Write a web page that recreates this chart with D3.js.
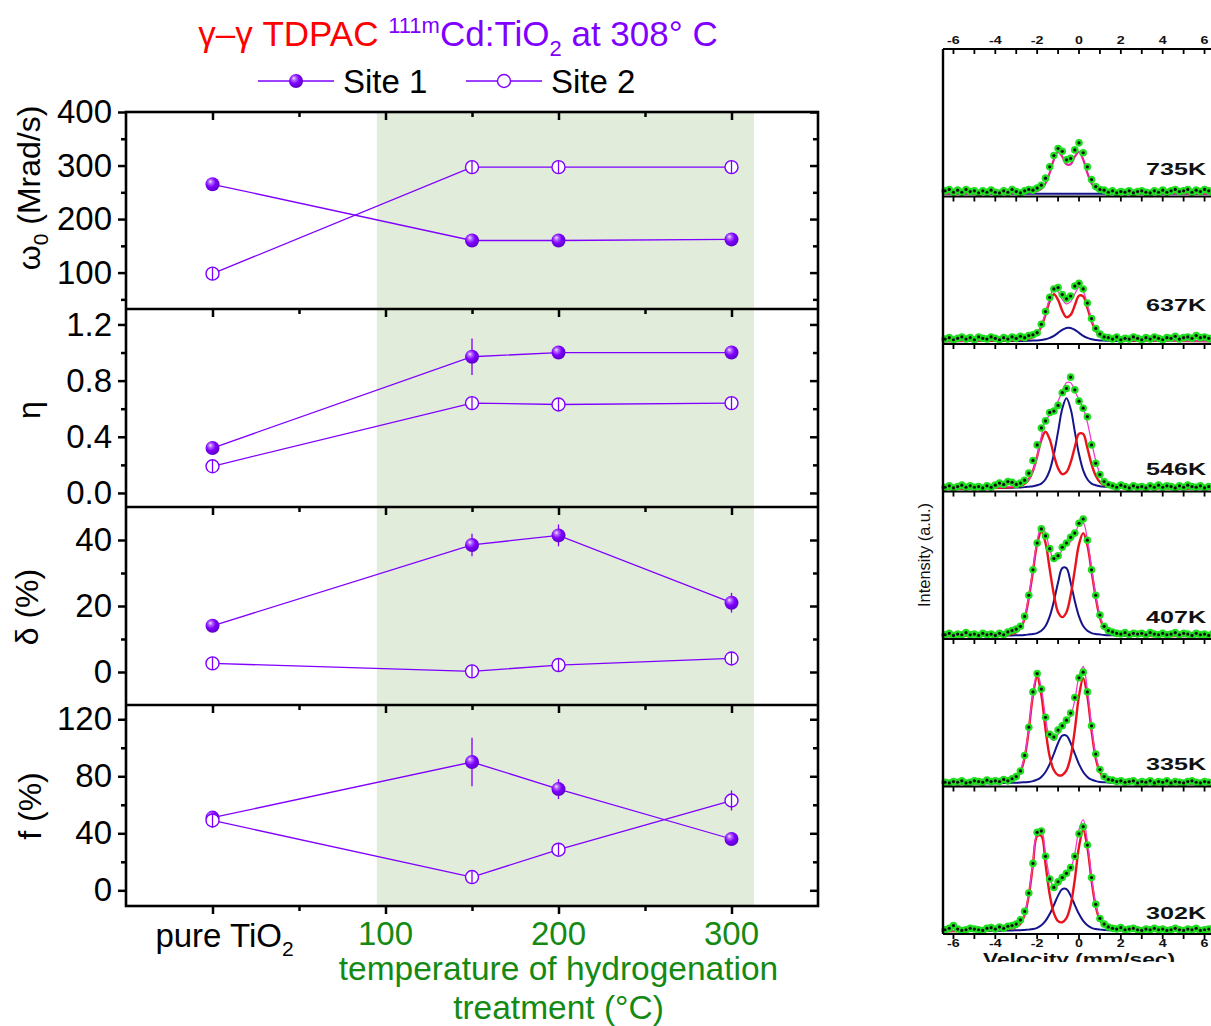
<!DOCTYPE html>
<html>
<head>
<meta charset="utf-8">
<script src="https://cdn.jsdelivr.net/npm/d3@7"></script>
<style>
  body { margin: 0; background: #fff; }
  svg { display: block; font-family: "Liberation Sans", Arial, Helvetica, sans-serif; }
</style>
</head>
<body>
<svg id="chart" width="1211" height="1026"></svg>
<script>
// ===================== TDPAC hyperfine parameters =====================
// Treatment temperature (°C); 0 stands for the untreated (pure TiO2) sample
const treatments = [0, 150, 200, 300];

const omegaSite1 = [265, 160, 160, 162];
const omegaSite2 = [98, 297, 297, 297];
const omegaErr1  = [4, 4, 4, 4];
const omegaErr2  = [12, 12, 12, 12];

const etaSite1 = [0.32, 0.97, 1.00, 1.00];
const etaSite2 = [0.19, 0.64, 0.63, 0.64];
const etaErr1  = [0.02, 0.13, 0.02, 0.02];
const etaErr2  = [0.045, 0.045, 0.045, 0.045];

const deltaSite1 = [14, 38.5, 41.4, 21];
const deltaSite2 = [2.6, 0.2, 2.1, 4.1];
const deltaErr1  = [1, 3.4, 3.3, 3];
const deltaErr2  = [2, 2, 2, 2];

const fracSite1 = [51, 90, 71, 36];
const fracSite2 = [49, 9.3, 28.5, 63];
const fracErr1  = [2, 17, 7, 2];
const fracErr2  = [5, 4, 4, 7];

// axis ranges and tick values
const xDomain      = [-50, 350];
const xMajorTicks  = [0, 100, 200, 300];
const xMinorTicks  = [50, 150, 250];
const xTickLabels  = ["pure TiO", "100", "200", "300"];
const treatedRange = [95, 313];

const omegaDomain = [32, 400],    omegaMajor = [100, 200, 300, 400], omegaMinor = [50, 150, 250, 350];
const etaDomain   = [-0.1, 1.31], etaMajor   = [0, 0.4, 0.8, 1.2],   etaMinor   = [0.2, 0.6, 1.0];
const deltaDomain = [-10, 50],    deltaMajor = [0, 20, 40],          deltaMinor = [10, 30];
const fracDomain  = [-11, 130],   fracMajor  = [0, 40, 80, 120],     fracMinor  = [20, 60, 100];

// ===================== Mössbauer spectra =====================
const spectrumLabels = ["735K", "637K", "546K", "407K", "335K", "302K"];

// channel velocities (mm/s) of the measured points
const channelVelocity = [
  -6.4, -6.2, -6.0, -5.8, -5.6, -5.4, -5.2, -5.0, -4.8, -4.6, -4.4, -4.2, -4.0,
  -3.8, -3.6, -3.4, -3.2, -3.0, -2.8, -2.6, -2.4, -2.2, -2.0, -1.8, -1.6, -1.4,
  -1.2, -1.0, -0.8, -0.6, -0.4, -0.2, 0.0, 0.2, 0.4, 0.6, 0.8, 1.0, 1.2,
  1.4, 1.6, 1.8, 2.0, 2.2, 2.4, 2.6, 2.8, 3.0, 3.2, 3.4, 3.6, 3.8,
  4.0, 4.2, 4.4, 4.6, 4.8, 5.0, 5.2, 5.4, 5.6, 5.8, 6.0, 6.2, 6.4
];
// velocities at which the fitted curves are tabulated
const fitVelocity = [
  -4.0, -3.8, -3.6, -3.4, -3.2, -3.0, -2.8, -2.6, -2.4, -2.2, -2.0,
  -1.8, -1.6, -1.4, -1.2, -1.0, -0.8, -0.6, -0.4, -0.2, 0.0, 0.2,
  0.4, 0.6, 0.8, 1.0, 1.2, 1.4, 1.6, 1.8, 2.0, 2.2, 2.4
];

const counts735K = [
  2, 3, 1, 2.5, 1, 3, 1.5, 2, 0.5, 2, 1, 2.5, 1,
  0.5, 2, 1, 3, 1.5, 0.5, 2, 3, 2.5, 4, 6, 11, 19,
  27, 32, 30, 24, 25, 31, 36, 29, 19, 10, 5, 3, 2.5,
  1, 2, 0.5, 1.5, 1, 2, 0.5, 1.5, 2, 1, 0.5, 2, 1,
  2.5, 1, 2, 3, 1.5, 2, 3, 1, 2.5, 1.5, 3, 2, 1
];
const fitTotal735K = [
  0.2, 0.3, 0.3, 0.3, 0.4, 0.5, 0.6, 0.7, 0.9, 1.2, 1.7,
  3.3, 7.2, 14.7, 24.2, 29.5, 26.2, 20.8, 20.8, 26.2, 29.5, 24.2,
  14.7, 7.2, 3.3, 1.7, 1.2, 0.9, 0.7, 0.6, 0.5, 0.4, 0.3
];
const fitBlue735K = [
  0, 0, 0, 0, 0, 0, 0, 0, 0, 0, 0,
  0, 0, 0, 0, 0, 0, 0, 0, 0, 0, 0,
  0, 0, 0, 0, 0, 0, 0, 0, 0, 0, 0
];

const counts637K = [
  1.5, 2.5, 1, 2, 3, 1.5, 2.5, 1, 3, 2, 1.5, 3, 2,
  1, 2.5, 1.5, 3, 2, 3.5, 2.5, 4, 4.5, 6, 12, 21, 31,
  37, 38, 33, 30, 32, 39, 41, 37, 27, 16, 9, 5, 3,
  2.5, 1.5, 3, 1, 2, 1.5, 3, 2, 1, 2.5, 1.5, 3, 2,
  1, 2.5, 2, 3.5, 1.5, 2.5, 3, 2, 4, 2.5, 3, 2, 1.5
];
const fitRed637K = [
  0.4, 0.5, 0.5, 0.6, 0.7, 0.8, 0.9, 1.2, 1.7, 2.8, 5.3,
  10.4, 18.8, 28.3, 33.2, 29.2, 21.6, 17.0, 18.6, 25.4, 32.2, 31.7,
  23.6, 14.2, 7.5, 3.8, 2.1, 1.4, 1.1, 0.9, 0.7, 0.6, 0.5
];
const fitBlue637K = [
  0.1, 0.1, 0.1, 0.1, 0.1, 0.2, 0.2, 0.2, 0.3, 0.4, 0.5,
  0.8, 1.3, 2.3, 3.8, 5.9, 8.0, 9.4, 9.4, 8.0, 5.9, 3.8,
  2.3, 1.3, 0.8, 0.5, 0.4, 0.3, 0.2, 0.2, 0.2, 0.1, 0.1
];
const fitTotal637K = [
  0.5, 0.6, 0.6, 0.7, 0.8, 1.0, 1.1, 1.4, 2.0, 3.2, 5.8,
  11.2, 20.1, 30.6, 37.0, 35.1, 29.6, 26.4, 28.0, 33.4, 38.1, 35.5,
  25.9, 15.5, 8.3, 4.3, 2.5, 1.7, 1.3, 1.1, 0.9, 0.7, 0.6
];

const counts546K = [
  1, 2, 0.5, 1.5, 2.5, 1, 2, 1, 1.5, 0.5, 2, 1, 2.5,
  4, 3, 5, 4.5, 3, 4, 6, 11, 20, 31, 43, 48, 54,
  55, 59, 68, 71, 79, 70, 62, 57, 51, 31, 18, 10, 5,
  3, 2, 1, 2.5, 1.5, 0.5, 2, 1, 1.5, 0.5, 2, 1, 2.5,
  1, 2, 1.5, 0.5, 2, 1, 2.5, 1.5, 1, 2, 0.5, 1.5, 1
];
const fitRed546K = [
  0.6, 0.7, 0.8, 0.9, 1.1, 1.5, 2.0, 3.4, 6.5, 12.7, 22.9,
  34.5, 40.3, 34.9, 23.8, 14.5, 10.3, 11.7, 18.6, 29.5, 38.9, 38.7,
  28.8, 17.3, 9.1, 4.6, 2.6, 1.7, 1.3, 1.0, 0.8, 0.7, 0.6
];
const fitBlue546K = [
  0.4, 0.5, 0.5, 0.6, 0.7, 0.8, 0.9, 1.1, 1.4, 1.7, 2.4,
  3.6, 6.7, 13.0, 24.4, 40.4, 56.6, 64.0, 56.6, 40.4, 24.4, 13.0,
  6.7, 3.6, 2.4, 1.7, 1.4, 1.1, 0.9, 0.8, 0.7, 0.6, 0.5
];
const fitTotal546K = [
  1.0, 1.1, 1.2, 1.4, 1.6, 2.0, 2.6, 4.0, 6.5, 12.5, 22.5,
  37.0, 48.5, 52.0, 56.0, 62.0, 69.0, 75.0, 75.0, 69.0, 63.0, 57.0,
  47.0, 33.0, 20.0, 10.5, 5.0, 3.0, 2.2, 1.8, 1.5, 1.2, 1.0
];

const counts407K = [
  1, 2, 0.5, 1.5, 1, 2.5, 1, 1.5, 0.5, 2, 1, 1.5, 0.5,
  2, 1, 3, 4, 5, 7, 14, 29, 47, 66, 76, 71, 62,
  55, 57, 63, 66, 70, 73, 80, 83, 68, 47, 29, 15, 7,
  4, 3, 2, 1.5, 2.5, 1, 2, 1.5, 2, 1, 2.5, 1.5, 1,
  2, 1, 1.5, 2.5, 1, 2, 1.5, 0.5, 2, 1, 1.5, 0.5, 2
];
const fitRed407K = [
  0.5, 0.6, 0.8, 1.0, 1.6, 2.8, 5.5, 12.5, 27, 46, 65.5,
  74, 66, 47.5, 29.5, 17, 13.5, 17, 29, 47, 65, 73,
  64.5, 46, 27.5, 13, 6, 3, 1.8, 1.2, 0.9, 0.7, 0.5
];
const fitBlue407K = [
  0.2, 0.3, 0.3, 0.4, 0.5, 0.6, 0.7, 0.9, 1.2, 1.5, 2.2,
  3.8, 7.2, 14.0, 24.9, 38.1, 48.2, 48.2, 38.1, 24.9, 14.0, 7.2,
  3.8, 2.2, 1.5, 1.2, 0.9, 0.7, 0.6, 0.5, 0.4, 0.3, 0.3
];
const fitTotal407K = [
  0.7, 0.9, 1.1, 1.4, 2.1, 3.4, 6.2, 13.4, 28.2, 47.5, 67.7,
  77.8, 73.2, 61.5, 54.4, 55.1, 61.7, 65.2, 67.1, 71.9, 79.0, 80.2,
  68.3, 48.2, 29.0, 14.2, 6.9, 3.7, 2.4, 1.7, 1.3, 1.0, 0.8
];

const counts335K = [
  1, 0.5, 1.5, 1, 2, 0.5, 1, 2, 1.5, 1, 2.5, 1.5, 2,
  1.5, 3, 2, 3.5, 5, 9, 20, 40, 65, 78, 67, 47, 35,
  33, 38, 41, 45, 50, 61, 75, 79, 65, 41, 21, 10, 5,
  3, 2.5, 1.5, 2, 1, 1.5, 2, 0.5, 1.5, 1, 2, 0.5, 1.5,
  1, 2, 0.5, 1.5, 1, 0.5, 1.5, 2, 1, 0.5, 1.5, 1, 0.5
];
const fitRed335K = [
  1.1, 1.3, 1.6, 2.0, 2.7, 4.1, 8.2, 18.4, 38.0, 62.8, 75.7,
  63.0, 38.5, 19.2, 9.5, 6.1, 6.1, 9.4, 19.0, 38.1, 62.2, 74.7,
  61.9, 37.5, 18.1, 8.1, 4.1, 2.6, 2.0, 1.6, 1.3, 1.1, 0.9
];
const fitBlue335K = [
  0.3, 0.4, 0.4, 0.5, 0.6, 0.7, 0.8, 1.0, 1.2, 1.8, 2.8,
  4.8, 8.3, 13.8, 21.2, 28.8, 34.0, 34.0, 28.8, 21.2, 13.8, 8.3,
  4.8, 2.8, 1.8, 1.2, 1.0, 0.8, 0.7, 0.6, 0.5, 0.4, 0.4
];
const fitTotal335K = [
  1.4, 1.7, 2.0, 2.5, 3.3, 4.8, 9.0, 19.4, 39.2, 64.6, 78.5,
  67.8, 46.8, 33.0, 30.7, 34.9, 40.1, 43.4, 47.8, 59.3, 76.0, 83.0,
  66.7, 40.3, 19.9, 9.3, 5.1, 3.4, 2.7, 2.2, 1.8, 1.5, 1.3
];

const counts302K = [
  1, 2, 4, 1.5, 0.5, 1, 2, 1.5, 1, 0.5, 2, 2.5, 1.5,
  3, 2, 3.5, 4, 5, 8, 14, 27, 48, 70, 71, 53, 37,
  31, 35, 38, 41, 45, 53, 69, 74, 61, 38, 19, 9, 5,
  3, 2, 1.5, 2.5, 1, 1.5, 2, 1, 0.5, 1.5, 1, 2, 1,
  1.5, 0.5, 1, 2, 1, 0.5, 1.5, 1, 2, 0.5, 1, 1.5, 2
];
const fitRed302K = [
  1.0, 1.2, 1.4, 1.7, 2.1, 3.0, 5.3, 11.5, 25.3, 47.2, 67.4,
  67.5, 47.6, 26.0, 12.7, 7.1, 6.3, 9.2, 18.4, 36.6, 59.8, 71.7,
  59.5, 36.0, 17.5, 7.8, 3.9, 2.5, 1.9, 1.5, 1.2, 1.0, 0.9
];
const fitBlue302K = [
  0.3, 0.3, 0.4, 0.4, 0.5, 0.6, 0.7, 0.9, 1.1, 1.5, 2.4,
  4.2, 7.3, 12.1, 18.5, 25.2, 29.8, 29.8, 25.2, 18.5, 12.1, 7.3,
  4.2, 2.4, 1.5, 1.1, 0.9, 0.7, 0.6, 0.5, 0.4, 0.4, 0.3
];
const fitTotal302K = [
  1.3, 1.5, 1.8, 2.1, 2.6, 3.6, 6.0, 12.4, 26.4, 48.7, 69.8,
  71.7, 54.9, 38.1, 31.2, 32.3, 36.1, 39.0, 43.6, 55.1, 71.9, 79.0,
  63.7, 38.4, 19.0, 8.9, 4.8, 3.2, 2.5, 2.0, 1.6, 1.4, 1.2
];

const velocityDomain  = [-6.5, 6.5];
const velocityMajor   = [-6, -4, -2, 0, 2, 4, 6];
const velocityMinor   = [-5, -3, -1, 1, 3, 5];
const intensityDomain = [-2, 100];

// ===================== drawing =====================
const svg = d3.select("#chart");
const PURPLE = "#7f00ff";
const GREEN = "#148a14";
const FS = 33;   // main text size of the left figure

const defs = svg.append("defs");
const ball = defs.append("radialGradient").attr("id", "ball")
  .attr("cx", "42%").attr("cy", "40%").attr("r", "62%")
  .attr("fx", "34%").attr("fy", "30%");
ball.append("stop").attr("offset", "0%").attr("stop-color", "#f3e8ff");
ball.append("stop").attr("offset", "22%").attr("stop-color", "#b46cff");
ball.append("stop").attr("offset", "55%").attr("stop-color", "#8000ff");
ball.append("stop").attr("offset", "100%").attr("stop-color", "#5a00c4");

// ---------- left figure: stacked TDPAC parameter panels ----------
const frame = { left: 126, right: 818, edges: [112, 309, 507, 705, 906] };
const x = d3.scaleLinear().domain(xDomain).range([frame.left, frame.right]);

svg.append("rect")
  .attr("x", x(treatedRange[0])).attr("y", frame.edges[0])
  .attr("width", x(treatedRange[1]) - x(treatedRange[0]))
  .attr("height", frame.edges[4] - frame.edges[0])
  .attr("fill", "#e2ecdb");

const panels = [
  { s1: omegaSite1, s2: omegaSite2, e1: omegaErr1, e2: omegaErr2, domain: omegaDomain, major: omegaMajor, minor: omegaMinor, fmt: d3.format("d") },
  { s1: etaSite1,   s2: etaSite2,   e1: etaErr1,   e2: etaErr2,   domain: etaDomain,   major: etaMajor,   minor: etaMinor,   fmt: d3.format(".1f") },
  { s1: deltaSite1, s2: deltaSite2, e1: deltaErr1, e2: deltaErr2, domain: deltaDomain, major: deltaMajor, minor: deltaMinor, fmt: d3.format("d") },
  { s1: fracSite1,  s2: fracSite2,  e1: fracErr1,  e2: fracErr2,  domain: fracDomain,  major: fracMajor,  minor: fracMinor,  fmt: d3.format("d") }
];

function styleAxis(g, width) {
  g.selectAll(".domain").remove();
  g.selectAll(".tick line").attr("stroke", "#000").attr("stroke-width", width);
  g.selectAll("text").attr("font-family", null).attr("font-size", FS).attr("fill", "#000");
}

panels.forEach((p, i) => {
  const top = frame.edges[i], bottom = frame.edges[i + 1];
  const y = d3.scaleLinear().domain(p.domain).range([bottom, top]);
  const g = svg.append("g");

  // left axis: outward ticks with labels
  g.append("g").attr("transform", `translate(${frame.left},0)`)
    .call(d3.axisLeft(y).tickValues(p.major).tickSize(8).tickPadding(6).tickFormat(p.fmt))
    .call(a => styleAxis(a, 2.5));
  g.append("g").attr("transform", `translate(${frame.left},0)`)
    .call(d3.axisLeft(y).tickValues(p.minor).tickSize(5).tickFormat(""))
    .call(a => styleAxis(a, 2.5));
  // right axis: inward ticks
  g.append("g").attr("transform", `translate(${frame.right},0)`)
    .call(d3.axisRight(y).tickValues(p.major).tickSize(-8).tickFormat(""))
    .call(a => styleAxis(a, 2.5));
  g.append("g").attr("transform", `translate(${frame.right},0)`)
    .call(d3.axisRight(y).tickValues(p.minor).tickSize(-5).tickFormat(""))
    .call(a => styleAxis(a, 2.5));
  // top edge: inward ticks
  g.append("g").attr("transform", `translate(0,${top})`)
    .call(d3.axisTop(x).tickValues(xMajorTicks).tickSize(-8).tickFormat(""))
    .call(a => styleAxis(a, 2.5));
  g.append("g").attr("transform", `translate(0,${top})`)
    .call(d3.axisTop(x).tickValues(xMinorTicks).tickSize(-5).tickFormat(""))
    .call(a => styleAxis(a, 2.5));

  const pts1 = treatments.map((t, k) => ({ t, v: p.s1[k], e: p.e1[k] }));
  const pts2 = treatments.map((t, k) => ({ t, v: p.s2[k], e: p.e2[k] }));
  const line = d3.line().x(d => x(d.t)).y(d => y(d.v));

  [pts1, pts2].forEach(pts => {
    g.append("path").attr("d", line(pts))
      .attr("fill", "none").attr("stroke", PURPLE).attr("stroke-width", 1.3);
  });

  const errBar = (sel, pts) => sel.selectAll(null).data(pts).join("line")
    .attr("x1", d => x(d.t)).attr("x2", d => x(d.t))
    .attr("y1", d => y(d.v - d.e)).attr("y2", d => y(d.v + d.e))
    .attr("stroke", PURPLE).attr("stroke-width", 1.3);

  // site 1: error bars behind the filled spheres
  errBar(g, pts1);
  g.selectAll(null).data(pts1).join("circle")
    .attr("cx", d => x(d.t)).attr("cy", d => y(d.v)).attr("r", 7)
    .attr("fill", "url(#ball)");
  // site 2: open circles, error bar visible inside
  g.selectAll(null).data(pts2).join("circle")
    .attr("cx", d => x(d.t)).attr("cy", d => y(d.v)).attr("r", 6.5)
    .attr("fill", "#fff").attr("stroke", PURPLE).attr("stroke-width", 1.4);
  errBar(g, pts2);
});

// frame lines
const frameG = svg.append("g").attr("stroke", "#000").attr("stroke-width", 2.6).attr("fill", "none");
frameG.append("rect").attr("x", frame.left).attr("y", frame.edges[0])
  .attr("width", frame.right - frame.left).attr("height", frame.edges[4] - frame.edges[0]);
frame.edges.slice(1, 4).forEach(e => {
  frameG.append("line").attr("x1", frame.left).attr("x2", frame.right).attr("y1", e).attr("y2", e);
});

// bottom axis: outward ticks
svg.append("g").attr("transform", `translate(0,${frame.edges[4]})`)
  .call(d3.axisBottom(x).tickValues(xMajorTicks).tickSize(8).tickFormat(""))
  .call(a => styleAxis(a, 2.5));
svg.append("g").attr("transform", `translate(0,${frame.edges[4]})`)
  .call(d3.axisBottom(x).tickValues(xMinorTicks).tickSize(5).tickFormat(""))
  .call(a => styleAxis(a, 2.5));

// x tick labels
const pure = svg.append("text").attr("x", x(xMajorTicks[0]) + 12).attr("y", 947)
  .attr("text-anchor", "middle").attr("font-size", FS).attr("fill", "#000");
pure.append("tspan").text(xTickLabels[0]);
pure.append("tspan").attr("dy", 9).attr("font-size", 21).text("2");

xMajorTicks.slice(1).forEach((t, k) => {
  svg.append("text").attr("x", x(t)).attr("y", 945)
    .attr("text-anchor", "middle").attr("font-size", FS).attr("fill", GREEN)
    .text(xTickLabels[k + 1]);
});

svg.append("text").attr("x", x(200)).attr("y", 980).attr("text-anchor", "middle")
  .attr("font-size", 33.5).attr("fill", GREEN).text("temperature of hydrogenation");
svg.append("text").attr("x", x(200)).attr("y", 1019).attr("text-anchor", "middle")
  .attr("font-size", 33.5).attr("fill", GREEN).text("treatment (°C)");

// y-axis titles
function yTitle(cx, cy, build) {
  const t = svg.append("text").attr("transform", `translate(${cx},${cy}) rotate(-90)`)
    .attr("text-anchor", "middle").attr("font-size", 32).attr("fill", "#000");
  build(t);
}
yTitle(40, 188, t => {
  t.append("tspan").text("ω");
  t.append("tspan").attr("dy", 8).attr("font-size", 21).text("0");
  t.append("tspan").attr("dy", -8).text(" (Mrad/s)");
});
yTitle(40, 410, t => t.text("η"));
yTitle(38, 607, t => t.text("δ (%)"));
yTitle(41, 806, t => t.text("f (%)"));

// title
const title = svg.append("text").attr("x", 458).attr("y", 46)
  .attr("text-anchor", "middle").attr("font-size", 35);
title.append("tspan").attr("fill", "#ff0000").text("γ–γ TDPAC ");
title.append("tspan").attr("fill", PURPLE).attr("dy", -13).attr("font-size", 22).text("111m");
title.append("tspan").attr("fill", PURPLE).attr("dy", 13).text("Cd:TiO");
title.append("tspan").attr("fill", PURPLE).attr("dy", 10).attr("font-size", 22).text("2");
title.append("tspan").attr("fill", PURPLE).attr("dy", -10).text(" at 308° C");

// legend
const legendItems = [
  { name: "Site 1", x0: 258, filled: true },
  { name: "Site 2", x0: 466, filled: false }
];
legendItems.forEach(it => {
  const ly = 81;
  svg.append("line").attr("x1", it.x0).attr("x2", it.x0 + 76).attr("y1", ly).attr("y2", ly)
    .attr("stroke", PURPLE).attr("stroke-width", 1.3);
  const c = svg.append("circle").attr("cx", it.x0 + 38).attr("cy", ly);
  if (it.filled) c.attr("r", 7).attr("fill", "url(#ball)");
  else c.attr("r", 6.5).attr("fill", "#fff").attr("stroke", PURPLE).attr("stroke-width", 1.4);
  svg.append("text").attr("x", it.x0 + 85).attr("y", ly + 12).attr("font-size", FS)
    .attr("fill", "#000").text(it.name);
});

// ---------- right figure: Mössbauer spectra ----------
const spectra = [
  { counts: counts735K, total: fitTotal735K, red: null,       blue: fitBlue735K },
  { counts: counts637K, total: fitTotal637K, red: fitRed637K, blue: fitBlue637K },
  { counts: counts546K, total: fitTotal546K, red: fitRed546K, blue: fitBlue546K },
  { counts: counts407K, total: fitTotal407K, red: fitRed407K, blue: fitBlue407K },
  { counts: counts335K, total: fitTotal335K, red: fitRed335K, blue: fitBlue335K },
  { counts: counts302K, total: fitTotal302K, red: fitRed302K, blue: fitBlue302K }
];
const labelLift = [22, 33, 17, 16, 17, 15];

const rb = { left: 943, right: 1215, top: 49, bottom: 934 };
const vel = d3.scaleLinear().domain(velocityDomain).range([rb.left, rb.right]);
const panelH = (rb.bottom - rb.top) / spectra.length;

defs.append("clipPath").attr("id", "spectraClip")
  .append("rect").attr("x", 880).attr("y", 0).attr("width", 331).attr("height", 962);
const gR = svg.append("g").attr("clip-path", "url(#spectraClip)");

const fitLine = ys => d3.line()
  .x(d => vel(d[0])).y(d => ys(d[1]))
  .curve(d3.curveCatmullRom.alpha(0.5));
const withTails = arr => [[velocityDomain[0], 0]]
  .concat(fitVelocity.map((v, k) => [v, arr[k]]))
  .concat([[velocityDomain[1], 0]]);

spectra.forEach((s, i) => {
  const pb = rb.top + (i + 1) * panelH;
  const ys = d3.scaleLinear().domain(intensityDomain).range([pb, pb - 144]);
  const g = gR.append("g");
  const fl = fitLine(ys);

  if (s.blue) g.append("path").attr("d", fl(withTails(s.blue)))
    .attr("fill", "none").attr("stroke", "#14148c").attr("stroke-width", 2);
  if (s.red) g.append("path").attr("d", fl(withTails(s.red)))
    .attr("fill", "none").attr("stroke", "#e8141c").attr("stroke-width", 2.4);
  g.append("path").attr("d", fl(withTails(s.total)))
    .attr("fill", "none").attr("stroke", s.red ? "#f03ccc" : "#e8209a")
    .attr("stroke-width", s.red ? 1.3 : 2.2);

  const pts = channelVelocity.map((v, k) => [v, s.counts[k]]);
  g.selectAll(null).data(pts).join("circle")
    .attr("cx", d => vel(d[0])).attr("cy", d => ys(d[1])).attr("r", 3.8)
    .attr("fill", "#1fe01f");
  g.selectAll(null).data(pts).join("circle")
    .attr("cx", d => vel(d[0])).attr("cy", d => ys(d[1])).attr("r", 1.6)
    .attr("fill", "#101010");

  g.append("text").attr("x", 1206).attr("y", pb - labelLift[i])
    .attr("text-anchor", "end").attr("font-size", 16).attr("font-weight", "bold")
    .attr("textLength", 60).attr("lengthAdjust", "spacingAndGlyphs")
    .attr("fill", "#111").text(spectrumLabels[i]);
});

// spectra frame and velocity ticks
const edgesR = d3.range(spectra.length + 1).map(k => rb.top + k * panelH);
const fr = gR.append("g").attr("stroke", "#000").attr("fill", "none");
fr.append("line").attr("x1", rb.left).attr("x2", rb.left).attr("y1", rb.top).attr("y2", rb.bottom)
  .attr("stroke-width", 2.4);
edgesR.forEach(e => {
  fr.append("line").attr("x1", rb.left).attr("x2", rb.right).attr("y1", e).attr("y2", e)
    .attr("stroke-width", 2);
  velocityMajor.concat(velocityMinor).forEach(t => {
    fr.append("line").attr("x1", vel(t)).attr("x2", vel(t)).attr("y1", e).attr("y2", e + 5)
      .attr("stroke-width", 1.8);
  });
});

const fmtVel = d => (d < 0 ? "-" : "") + Math.abs(d);
velocityMajor.forEach(t => {
  gR.append("text").attr("transform", `translate(${vel(t)},44) scale(1.3,1)`)
    .attr("text-anchor", "middle").attr("font-size", 11).attr("font-weight", "bold")
    .attr("fill", "#111").text(fmtVel(t));
  gR.append("text").attr("transform", `translate(${vel(t)},947) scale(1.3,1)`)
    .attr("text-anchor", "middle").attr("font-size", 11).attr("font-weight", "bold")
    .attr("fill", "#111").text(fmtVel(t));
});
gR.append("text").attr("x", vel(0)).attr("y", 965).attr("text-anchor", "middle")
  .attr("font-size", 17).attr("font-weight", "bold").attr("fill", "#111")
  .attr("textLength", 192).attr("lengthAdjust", "spacingAndGlyphs")
  .text("Velocity (mm/sec)");

svg.append("text").attr("transform", "translate(930,555) rotate(-90)")
  .attr("text-anchor", "middle").attr("font-size", 17).attr("fill", "#111")
  .attr("textLength", 104).attr("lengthAdjust", "spacingAndGlyphs")
  .text("Intensity (a.u.)");
</script>
</body>
</html>
